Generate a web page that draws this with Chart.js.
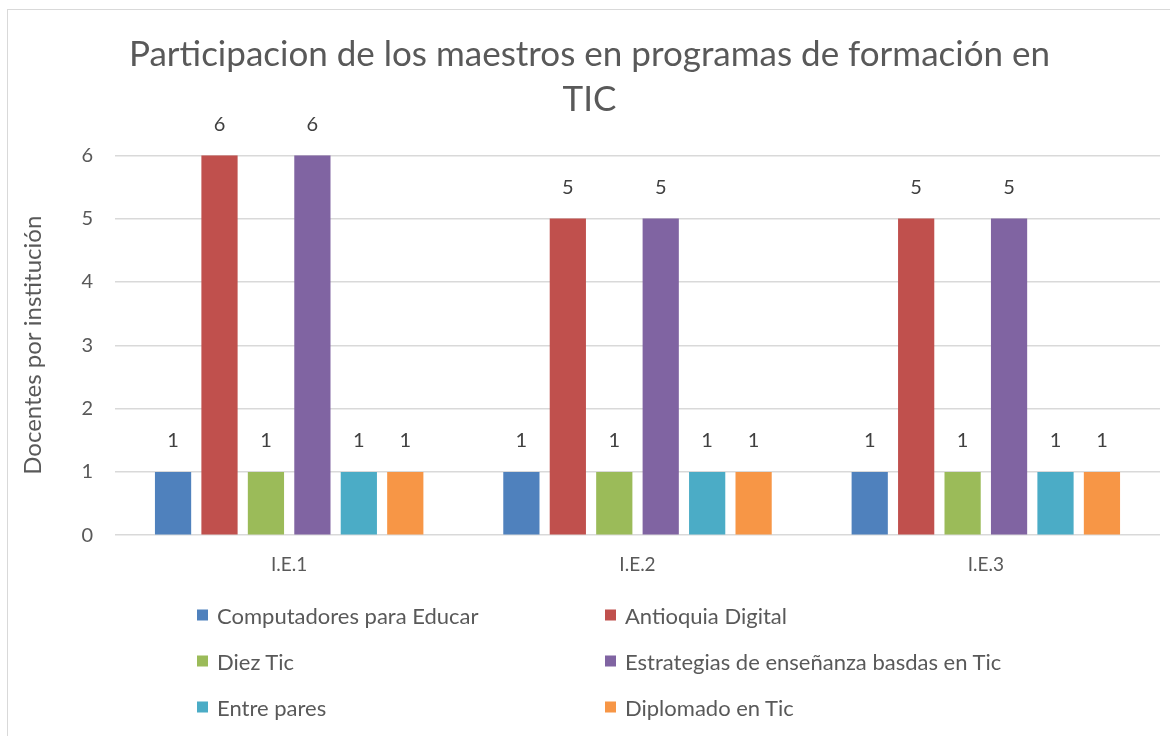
<!DOCTYPE html>
<html>
<head>
<meta charset="utf-8">
<script src="https://cdn.jsdelivr.net/npm/chart.js@4.4.0/dist/chart.umd.min.js"></script>
<style>
  html, body { margin: 0; padding: 0; background: #fff; }
  #wrap { position: relative; width: 1170px; height: 736px; overflow: hidden; }
  #frame { position: absolute; left: 7px; top: 9px; width: 1170px; height: 740px; border: 1px solid #d9d9d9; box-sizing: border-box; }
  canvas { position: absolute; left: 0; top: 0; }
  #legend { position: absolute; left: 0; top: 0; width: 1170px; height: 736px; pointer-events: none; font-family: Lato, "Open Sans", sans-serif; font-size: 22px; color: #595959; }
  .li { position: absolute; display: flex; align-items: center; white-space: nowrap; transform: translateY(-50%); }
  .sw { width: 11px; height: 11px; margin-right: 9px; display: inline-block; }
</style>
</head>
<body>
<div id="wrap">
  <div id="frame"></div>
  <canvas id="c" width="1170" height="736"></canvas>
  <div id="legend"></div>
</div>
<script>
const categories = ["I.E.1", "I.E.2", "I.E.3"];
const seriesNames = ["Computadores para Educar", "Antioquia Digital", "Diez Tic", "Estrategias de enseñanza basdas en Tic", "Entre pares", "Diplomado en Tic"];
const computadores = [1, 1, 1];
const antioquia = [6, 5, 5];
const diezTic = [1, 1, 1];
const estrategias = [6, 5, 5];
const entrePares = [1, 1, 1];
const diplomado = [1, 1, 1];
const yTicks = [0, 1, 2, 3, 4, 5, 6];
const colors = ["#4f81bd", "#c0504d", "#9bbb59", "#8064a2", "#4bacc6", "#f79646"];
const seriesValues = [computadores, antioquia, diezTic, estrategias, entrePares, diplomado];

const FONT = 'Lato, "Open Sans", sans-serif';

const dataLabels = {
  id: 'dataLabels',
  afterDatasetsDraw(chart) {
    const ctx = chart.ctx;
    ctx.save();
    ctx.font = '20px ' + FONT;
    ctx.fillStyle = '#404040';
    ctx.textAlign = 'center';
    ctx.textBaseline = 'middle';
    chart.data.datasets.forEach((ds, i) => {
      const meta = chart.getDatasetMeta(i);
      meta.data.forEach((bar, j) => {
        ctx.fillText(String(ds.data[j]), bar.x, bar.y - 31);
      });
    });
    ctx.restore();
  }
};

const chart = new Chart(document.getElementById('c'), {
  type: 'bar',
  data: {
    labels: categories,
    datasets: seriesNames.map((name, i) => ({
      label: name,
      data: seriesValues[i],
      backgroundColor: colors[i],
      borderWidth: 0,
      categoryPercentage: 0.8,
      barPercentage: 0.78
    }))
  },
  options: {
    responsive: false,
    animation: false,
    devicePixelRatio: 1,
    layout: { padding: { left: 19, right: 10, top: 0, bottom: 142 } },
    plugins: {
      legend: { display: false },
      tooltip: { enabled: false },
      title: {
        display: true,
        text: ["Participacion de los maestros en programas de formación en", "TIC"],
        color: '#595959',
        font: { family: FONT, size: 35, weight: 'normal', lineHeight: 1.29 },
        padding: { top: 32, bottom: 33 }
      }
    },
    scales: {
      x: {
        grid: { display: false, drawTicks: false },
        border: { display: false },
        ticks: { color: '#595959', font: { family: FONT, size: 19 }, padding: 18 }
      },
      y: {
        min: 0,
        max: 6,
        afterBuildTicks(axis) { axis.ticks = yTicks.map(v => ({ value: v })); },
        afterFit(axis) { axis.width = 115 - 19; },
        grid: { color: '#d9d9d9', lineWidth: 1.5, drawTicks: false },
        border: { display: false },
        ticks: { color: '#595959', font: { family: FONT, size: 20 }, padding: 22 },
        title: { display: true, text: 'Docentes por institución', color: '#595959', font: { family: FONT, size: 24 }, padding: { top: 0, bottom: 12 } }
      }
    }
  },
  plugins: [dataLabels]
});

// HTML legend in two columns
const legend = document.getElementById('legend');
const colX = [197, 605];
const rowY = [615, 661, 707];
seriesNames.forEach((name, i) => {
  const el = document.createElement('div');
  el.className = 'li';
  el.style.left = colX[i % 2] + 'px';
  el.style.top = rowY[Math.floor(i / 2)] + 'px';
  const sw = document.createElement('span');
  sw.className = 'sw';
  sw.style.background = colors[i];
  const tx = document.createElement('span');
  tx.textContent = name;
  el.appendChild(sw);
  el.appendChild(tx);
  legend.appendChild(el);
});
</script>
</body>
</html>
